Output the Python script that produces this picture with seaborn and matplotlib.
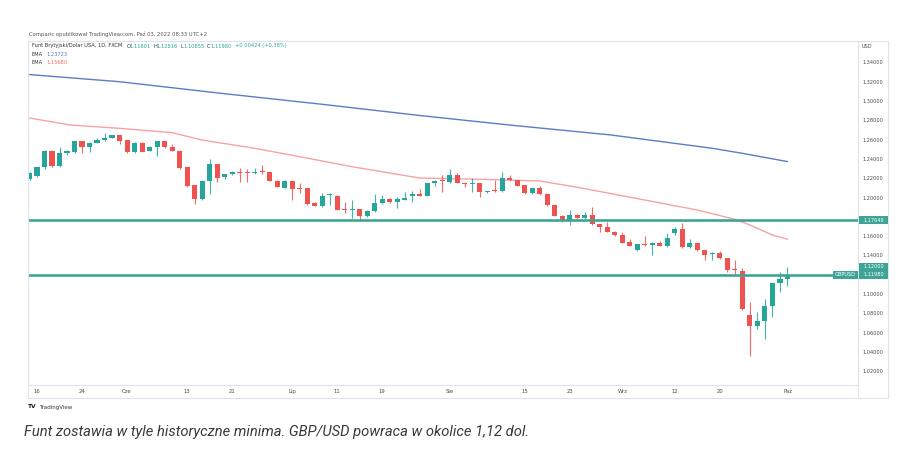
import numpy as np
import pandas as pd
import seaborn as sns
import matplotlib
matplotlib.use("Agg")
import matplotlib.pyplot as plt
import matplotlib.transforms as mtransforms
from matplotlib.patches import Rectangle
from matplotlib.lines import Line2D

# ---------------- data ----------------
opens = [1.2189, 1.2223, 1.2313, 1.2486, 1.2327, 1.2458, 1.2468, 1.2582, 1.2520, 1.2568,
         1.2593, 1.2620, 1.2644, 1.2596, 1.2468, 1.2568, 1.2482, 1.2520, 1.2586, 1.2520,
         1.2486, 1.2313, 1.2127, 1.1982, 1.2172, 1.2348, 1.2210, 1.2241, 1.2268, 1.2261,
         1.2251, 1.2265, 1.2261, 1.2175, 1.2103, 1.2172, 1.2096, 1.2096, 1.1940, 1.1913,
         1.2030, 1.2020, 1.1878, 1.1872, 1.1878, 1.1809, 1.1861, 1.1940, 1.1989, 1.1958,
         1.1975, 1.2020, 1.2034, 1.2020, 1.2151, 1.2175, 1.2158, 1.2234, 1.2154, 1.2137,
         1.2147, 1.2055, 1.2068, 1.2068, 1.2199, 1.2182, 1.2130, 1.2044, 1.2095, 1.2040,
         1.1922, 1.1812, 1.1757, 1.1819, 1.1784, 1.1819, 1.1726, 1.1698, 1.1646, 1.1612,
         1.1536, 1.1457, 1.1515, 1.1509, 1.1526, 1.1498, 1.1629, 1.1671, 1.1484, 1.1532,
         1.1457, 1.1412, 1.1422, 1.1370, 1.1250, 1.1243, 1.0784, 1.0673, 1.0725, 1.0877,
         1.1112, 1.11601]
highs = [1.2261, 1.2320, 1.2492, 1.2492, 1.2520, 1.2493, 1.2590, 1.2586, 1.2575, 1.2613,
         1.2665, 1.2650, 1.2648, 1.2600, 1.2572, 1.2572, 1.2530, 1.2590, 1.2590, 1.2555,
         1.2490, 1.2318, 1.2130, 1.2178, 1.2399, 1.2352, 1.2245, 1.2272, 1.2303, 1.2292,
         1.2310, 1.2334, 1.2265, 1.2178, 1.2178, 1.2175, 1.2154, 1.2100, 1.1951, 1.2044,
         1.2044, 1.2025, 1.1958, 1.1975, 1.1882, 1.1868, 1.2034, 1.2030, 1.2000, 1.2010,
         1.2058, 1.2068, 1.2085, 1.2151, 1.2185, 1.2234, 1.2292, 1.2250, 1.2158, 1.2199,
         1.2150, 1.2072, 1.2182, 1.2268, 1.2234, 1.2186, 1.2134, 1.2099, 1.2120, 1.2045,
         1.1930, 1.1820, 1.1870, 1.1830, 1.1853, 1.1898, 1.1730, 1.1750, 1.1650, 1.1640,
         1.1570, 1.1520, 1.1601, 1.1535, 1.1545, 1.1636, 1.1698, 1.1733, 1.1570, 1.1536,
         1.1460, 1.1440, 1.1446, 1.1374, 1.1353, 1.1267, 1.0922, 1.0818, 1.0946, 1.1117,
         1.1232, 1.12816]
lows = [1.2182, 1.2210, 1.2300, 1.2320, 1.2318, 1.2441, 1.2460, 1.2465, 1.2475, 1.2560,
        1.2588, 1.2615, 1.2555, 1.2462, 1.2462, 1.2470, 1.2478, 1.2430, 1.2515, 1.2482,
        1.2300, 1.2113, 1.1934, 1.1975, 1.2037, 1.2165, 1.2195, 1.2236, 1.2158, 1.2165,
        1.2245, 1.2241, 1.2168, 1.2105, 1.2098, 1.1975, 1.2044, 1.1925, 1.1910, 1.1905,
        1.1923, 1.1868, 1.1837, 1.1785, 1.1758, 1.1800, 1.1855, 1.1935, 1.1945, 1.1889,
        1.1970, 1.1958, 1.2015, 1.2015, 1.2120, 1.2061, 1.2150, 1.2150, 1.2106, 1.2061,
        1.2003, 1.2050, 1.2060, 1.2062, 1.2175, 1.2115, 1.2040, 1.2040, 1.2030, 1.1915,
        1.1808, 1.1750, 1.1715, 1.1778, 1.1778, 1.1720, 1.1646, 1.1640, 1.1605, 1.1525,
        1.1495, 1.1450, 1.1495, 1.1405, 1.1495, 1.1490, 1.1612, 1.1480, 1.1480, 1.1450,
        1.1353, 1.1353, 1.1365, 1.1232, 1.1208, 1.0838, 1.0353, 1.0639, 1.0532, 1.0760,
        1.1025, 1.10855]
closes = [1.2251, 1.2313, 1.2486, 1.2327, 1.2458, 1.2486, 1.2582, 1.2520, 1.2568, 1.2596,
          1.2620, 1.2644, 1.2589, 1.2468, 1.2568, 1.2475, 1.2527, 1.2586, 1.2520, 1.2486,
          1.2303, 1.2123, 1.1982, 1.2172, 1.2348, 1.2206, 1.2241, 1.2268, 1.2251, 1.2258,
          1.2265, 1.2261, 1.2172, 1.2110, 1.2172, 1.2085, 1.2092, 1.1934, 1.1916, 1.2016,
          1.2037, 1.1872, 1.1875, 1.1876, 1.1809, 1.1861, 1.1940, 1.1989, 1.1951, 1.1982,
          1.1996, 1.2034, 1.2020, 1.2147, 1.2172, 1.2168, 1.2234, 1.2154, 1.2137, 1.2154,
          1.2061, 1.2068, 1.2065, 1.2199, 1.2182, 1.2123, 1.2044, 1.2095, 1.2040, 1.1922,
          1.1812, 1.1757, 1.1819, 1.1784, 1.1819, 1.1726, 1.1698, 1.1646, 1.1612, 1.1532,
          1.1501, 1.1515, 1.1512, 1.1526, 1.1501, 1.1577, 1.1671, 1.1484, 1.1532, 1.1457,
          1.1405, 1.1429, 1.1370, 1.1250, 1.1246, 1.0842, 1.0673, 1.0725, 1.0877, 1.1112,
          1.1153, 1.11980]

# EMA readings (candle index, value)
ema_slow_idx = [0, 12, 25.5, 39, 52, 64, 77.5, 91, 95, 101]
ema_slow_val = [1.3274, 1.3200, 1.3080, 1.2966, 1.2850, 1.2751, 1.2648, 1.2510, 1.2458, 1.23723]
ema_fast_idx = [0, 5.5, 12, 19, 23, 30, 36, 43, 52, 60, 68, 73, 82, 89, 94, 96, 99, 101]
ema_fast_val = [1.2824, 1.2751, 1.2717, 1.2672, 1.2596, 1.2510, 1.2423, 1.2319, 1.2202,
                1.2189, 1.2171, 1.2106, 1.1974, 1.1870, 1.1774, 1.1715, 1.1611, 1.15680]

level_upper = 1.17649
level_lower = 1.12000
last_price = 1.11980

# visible price-axis labels (1.18 and 1.12 are covered by the level boxes)
price_ticks = [1.34, 1.32, 1.30, 1.28, 1.26, 1.24, 1.22, 1.20, 1.16, 1.14,
               1.10, 1.08, 1.06, 1.04, 1.02]
time_tick_idx = [1, 7, 13, 21, 27, 35, 41, 47, 56, 66, 72, 79, 86, 92, 101]
time_tick_lab = ["16", "24", "Cze", "13", "21", "Lip", "11", "19", "Sie", "15", "23",
                 "Wrz", "12", "20", "Paź"]

df = pd.DataFrame({"i": np.arange(len(opens)), "o": opens, "h": highs, "l": lows, "c": closes})

# ---------------- style ----------------
sns.set_style("white")
plt.rcParams["font.family"] = ["DejaVu Sans"]

GREEN = "#26a69a"
RED = "#ef5350"
BLUE = "#5b7cc6"
PINK = "#f6a3a3"
TEAL = "#3ea596"
GRID = "#e0e3eb"
TXT = "#4a4a4a"

W, H = 903, 462
fig = plt.figure(figsize=(W / 100, H / 100), dpi=100)
fig.patch.set_facecolor("white")

def fx(px):
    return px / W

def fy(py):
    return 1 - py / H

L_, R_, T_, B_ = 28, 858, 41, 385
ax = fig.add_axes([fx(L_), fy(B_), fx(R_) - fx(L_), fy(T_) - fy(B_)])
ax.set_facecolor("white")
ax.set_xlim(-0.2, 110.4)
ax.set_ylim(1.0057, 1.3622)

# candles
is_up = df["c"] >= df["o"]
colors = np.where(is_up, GREEN, RED)
ax.vlines(df["i"], df["l"], df["h"], colors=colors, lw=0.8, alpha=0.85, zorder=2)
body_bottom = np.minimum(df["o"], df["c"])
body_h = np.maximum(np.abs(df["c"] - df["o"]), 0.0009)
ax.bar(df["i"], body_h, bottom=body_bottom, width=0.68, color=colors, linewidth=0, zorder=3)

# EMAs
sns.lineplot(x=ema_slow_idx, y=ema_slow_val, ax=ax, color=BLUE, lw=1.0, zorder=1)
sns.lineplot(x=ema_fast_idx, y=ema_fast_val, ax=ax, color=PINK, lw=1.0, zorder=1)

# horizontal levels
ax.axhline(level_upper, color=TEAL, lw=1.9, zorder=4)
ax.axhline(level_lower, color=TEAL, lw=1.9, zorder=4)

# axes styling
for s in ["left", "top", "right", "bottom"]:
    ax.spines[s].set_color(GRID)
    ax.spines[s].set_linewidth(0.8)
ax.yaxis.tick_right()
ax.set_yticks(price_ticks)
ax.set_yticklabels([f"{p:.5f}" for p in price_ticks])
ax.tick_params(axis="y", length=0, pad=3.6, labelsize=3.6, labelcolor=TXT)
ax.set_xticks(time_tick_idx)
ax.set_xticklabels(time_tick_lab)
ax.tick_params(axis="x", length=0, pad=3.0, labelsize=3.8, labelcolor=TXT)
ax.set_xlabel("")
ax.set_ylabel("")
ax.grid(False)

# outer frame
for (x0, y0, x1, y1) in [(L_, T_, 888, T_), (888, T_, 888, 398), (L_, 398, 888, 398),
                         (L_, T_, L_, 398), (R_, B_, R_, 398)]:
    fig.add_artist(Line2D([fx(x0), fx(x1)], [fy(y0), fy(y1)], color=GRID, lw=0.8))

# price labels on axis
bt = mtransforms.blended_transform_factory(fig.transFigure, ax.transData)
box_h = 0.0080

def price_box(x0px, x1px, yval, text):
    fig.add_artist(Rectangle((fx(x0px), yval - box_h / 2), fx(x1px) - fx(x0px), box_h,
                             transform=bt, facecolor=TEAL, edgecolor="none", zorder=5,
                             clip_on=False))
    fig.text(fx((x0px + x1px) / 2), yval, text, transform=bt, color="white",
             fontsize=3.6, ha="center", va="center", zorder=6)

price_box(859, 888, level_upper, f"{level_upper:.5f}")
price_box(859, 888, level_lower + 0.0080, f"{level_lower:.5f}")
price_box(859, 888, last_price, f"{last_price:.5f}")
price_box(833, 858, last_price, "GBPUSD")

fig.text(fx(862), fy(46), "USD", fontsize=3.6, color=TXT, va="center", ha="left")

# header texts
fig.text(fx(29), fy(34), "Comparic opublikował TradingView.com, Paź 03, 2022 08:33 UTC+2",
         fontsize=3.8, color="#555555", va="center", ha="left")

def seg(xpx, ypx, s, c, size=3.7):
    fig.text(fx(xpx), fy(ypx), s, fontsize=size, color=c, va="center", ha="left")

seg(32, 46, "Funt Brytyjski/Dolar USA, 1D, FXCM", "#333333")
seg(126.5, 46, "O", "#333333"); seg(129.5, 46, f"{opens[-1]:.5f}", GREEN)
seg(153.5, 46, "H", "#333333"); seg(156.5, 46, f"{highs[-1]:.5f}", GREEN)
seg(181, 46, "L", "#333333"); seg(183.5, 46, f"{lows[-1]:.5f}", GREEN)
seg(207, 46, "C", "#333333"); seg(210, 46, f"{closes[-1]:.5f}", GREEN)
seg(235, 46, "+0.00424 (+0.38%)", GREEN)
seg(32, 54, "EMA", "#333333"); seg(46.5, 54, f"{ema_slow_val[-1]:.5f}", BLUE)
seg(32, 62, "EMA", "#333333"); seg(46.5, 62, f"{ema_fast_val[-1]:.5f}", "#f26b6b")

# TradingView logo
fig.text(fx(28), fy(407), "TV", fontsize=4.2, fontweight="bold", color="#131722",
         va="center", ha="left")
fig.text(fx(39), fy(407), "TradingView", fontsize=4.0, color="#333333",
         va="center", ha="left")

# caption
fig.text(fx(24), fy(432), "Funt zostawia w tyle historyczne minima. GBP/USD powraca w okolice 1,12 dol.",
         fontsize=10.6, fontstyle="italic", family=["Roboto", "DejaVu Sans"],
         color="#3a3a3a", va="center", ha="left")

fig.savefig("out.png", dpi=100, facecolor="white")
